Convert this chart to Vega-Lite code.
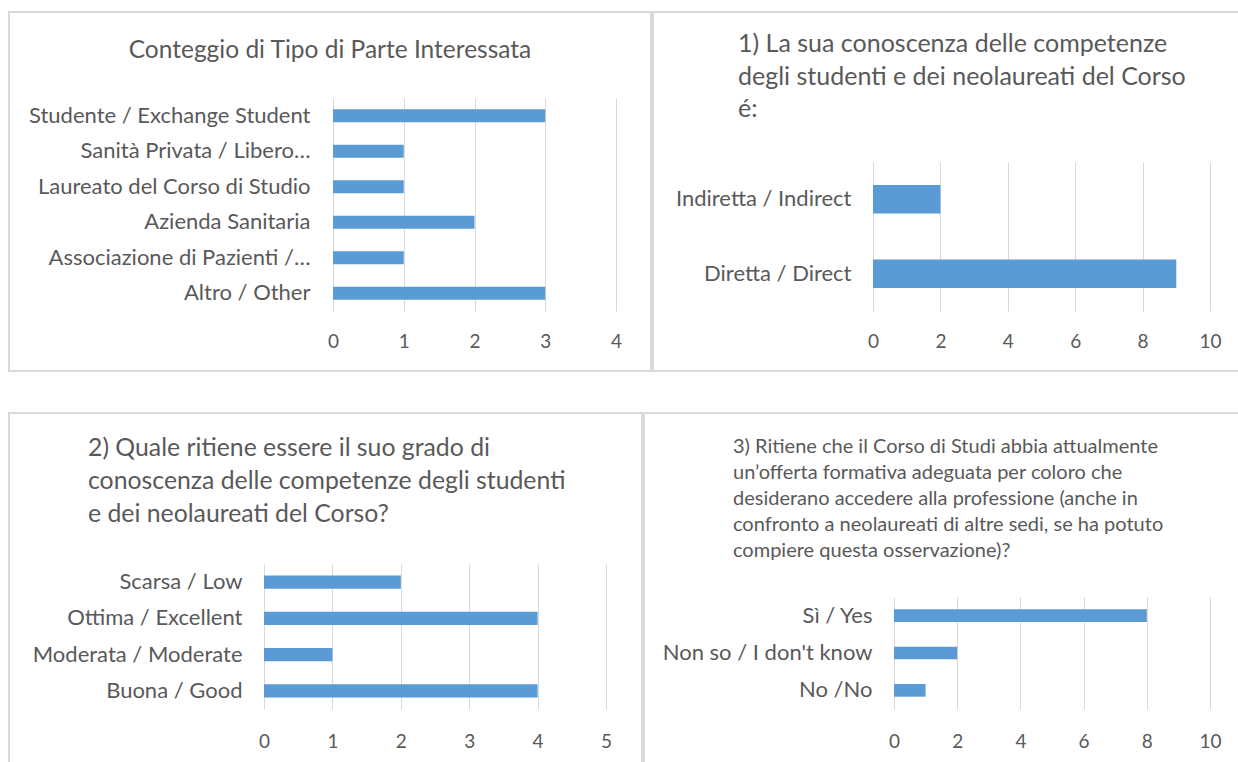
{
  "$schema": "https://vega.github.io/schema/vega-lite/v6.json",
  "padding": {"left": 8, "top": 11, "right": 0, "bottom": 0},
  "background": "white",
  "config": {
    "view": {"stroke": "#d9d9d9", "strokeWidth": 2},
    "font": "Lato",
    "axis": {"labelColor": "#595959", "labelFont": "Lato", "title": null, "domain": false, "ticks": false, "tickSize": 0},
    "axisY": {"labelFontSize": 22},
    "axisX": {"labelFontSize": 19},
    "title": {"color": "#595959", "font": "Lato", "fontWeight": "normal", "frame": "group", "orient": "top"},
    "bar": {"color": "#5b9bd5"}
  },
  "vconcat": [
    {
      "hconcat": [
        {
          "width": 642, "height": 359,
          "title": {"text": "Conteggio di Tipo di Parte Interessata", "anchor": "middle", "offset": -51, "fontSize": 24.5},
          "data": {"values": [
            {"categoria": "Studente / Exchange Student", "valore": 3},
            {"categoria": "Sanità Privata / Libero…", "valore": 1},
            {"categoria": "Laureato del Corso di Studio", "valore": 1},
            {"categoria": "Azienda Sanitaria", "valore": 2},
            {"categoria": "Associazione di Pazienti /…", "valore": 1},
            {"categoria": "Altro / Other", "valore": 3}
          ]},
          "mark": "bar",
          "encoding": {
            "y": {"field": "categoria", "type": "nominal", "sort": null,
                  "scale": {"range": [86, 299], "paddingInner": 0.63, "paddingOuter": 0.315},
                  "axis": {"orient": "left", "offset": -301, "labelPadding": 0, "labelLimit": 400, "grid": false}},
            "x": {"field": "valore", "type": "quantitative",
                  "scale": {"domain": [0, 4], "range": [324, 607], "nice": false},
                  "axis": {"orient": "top", "offset": -299, "labelBaseline": "top", "labelPadding": -21, "values": [0, 1, 2, 3, 4], "grid": true, "gridColor": "#d9d9d9", "labelFlush": false}}
          }
        },
        {
          "width": 588, "height": 359,
          "title": {"text": ["1) La sua conoscenza delle competenze", "degli studenti e dei neolaureati del Corso", "é:"], "anchor": "start", "dx": 85, "offset": -110, "lineHeight": 32.5, "fontSize": 25},
          "data": {"values": [
            {"categoria": "Indiretta / Indirect", "valore": 2},
            {"categoria": "Diretta / Direct", "valore": 9}
          ]},
          "mark": "bar",
          "encoding": {
            "y": {"field": "categoria", "type": "nominal", "sort": null,
                  "scale": {"range": [150, 299], "paddingInner": 0.62, "paddingOuter": 0.31},
                  "axis": {"orient": "left", "offset": -198, "labelPadding": 0, "labelLimit": 400, "grid": false}},
            "x": {"field": "valore", "type": "quantitative",
                  "scale": {"domain": [0, 10], "range": [220, 557], "nice": false},
                  "axis": {"orient": "top", "offset": -299, "labelBaseline": "top", "labelPadding": -21, "values": [0, 2, 4, 6, 8, 10], "grid": true, "gridColor": "#d9d9d9", "labelFlush": false}}
          }
        }
      ],
      "spacing": 2,
      "bounds": "flush"
    },
    {
      "hconcat": [
        {
          "width": 633, "height": 365,
          "title": {"text": ["2) Quale ritiene essere il suo grado di", "conoscenza delle competenze degli studenti", "e dei neolaureati del Corso?"], "anchor": "start", "dx": 79, "offset": -114, "lineHeight": 33, "fontSize": 24.8},
          "data": {"values": [
            {"categoria": "Scarsa / Low", "valore": 2},
            {"categoria": "Ottima / Excellent", "valore": 4},
            {"categoria": "Moderata / Moderate", "valore": 1},
            {"categoria": "Buona / Good", "valore": 4}
          ]},
          "mark": "bar",
          "encoding": {
            "y": {"field": "categoria", "type": "nominal", "sort": null,
                  "scale": {"range": [151, 296], "paddingInner": 0.64, "paddingOuter": 0.32},
                  "axis": {"orient": "left", "offset": -233, "labelPadding": 0, "labelLimit": 400, "grid": false}},
            "x": {"field": "valore", "type": "quantitative",
                  "scale": {"domain": [0, 5], "range": [255, 597], "nice": false},
                  "axis": {"orient": "top", "offset": -296, "labelBaseline": "top", "labelPadding": -23, "values": [0, 1, 2, 3, 4, 5], "grid": true, "gridColor": "#d9d9d9", "labelFlush": false}}
          }
        },
        {
          "width": 597, "height": 365,
          "title": {"text": ["3) Ritiene che il Corso di Studi abbia attualmente", "un’offerta formativa adeguata per coloro che", "desiderano accedere alla  professione (anche in", "confronto a neolaureati di altre sedi, se ha potuto", "compiere questa osservazione)?"], "anchor": "start", "dx": 89, "offset": -148, "lineHeight": 26, "fontSize": 20},
          "data": {"values": [
            {"categoria": "Sì / Yes", "valore": 8},
            {"categoria": "Non so / I don't know", "valore": 2},
            {"categoria": "No /No", "valore": 1}
          ]},
          "mark": "bar",
          "encoding": {
            "y": {"field": "categoria", "type": "nominal", "sort": null,
                  "scale": {"range": [184, 296], "paddingInner": 0.66, "paddingOuter": 0.33},
                  "axis": {"orient": "left", "offset": -228, "labelPadding": 0, "labelLimit": 400, "grid": false}},
            "x": {"field": "valore", "type": "quantitative",
                  "scale": {"domain": [0, 10], "range": [250, 566], "nice": false},
                  "axis": {"orient": "top", "offset": -296, "labelBaseline": "top", "labelPadding": -23, "values": [0, 2, 4, 6, 8, 10], "grid": true, "gridColor": "#d9d9d9", "labelFlush": false}}
          }
        }
      ],
      "spacing": 2,
      "bounds": "flush"
    }
  ],
  "spacing": 40
}
